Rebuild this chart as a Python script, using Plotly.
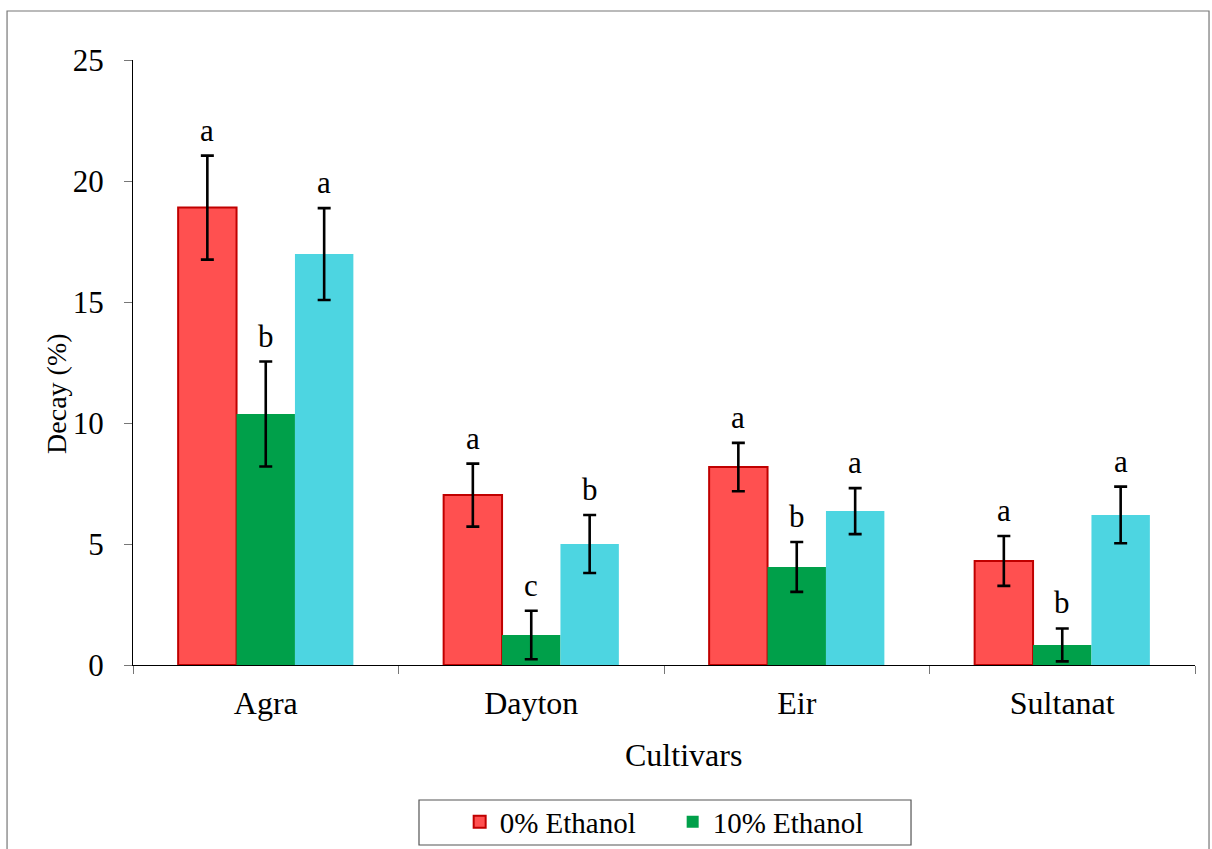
import plotly.graph_objects as go

cultivars = ["Agra", "Dayton", "Eir", "Sultanat"]
series_names = ["0% Ethanol", "10% Ethanol", "20% Ethanol"]
ethanol0 = [18.9, 7.02, 8.18, 4.30]
ethanol0_err = [2.15, 1.3, 1.0, 1.03]
ethanol10 = [10.37, 1.24, 4.05, 0.83]
ethanol10_err = [2.17, 1.0, 1.03, 0.68]
ethanol20 = [16.98, 5.0, 6.36, 6.2]
ethanol20_err = [1.9, 1.2, 0.95, 1.17]
letters0 = ["a", "a", "a", "a"]
letters10 = ["b", "c", "b", "b"]
letters20 = ["a", "b", "a", "a"]
y_ticks = [0, 5, 10, 15, 20, 25]

FONT = "Liberation Serif"
fills = ["#FF5050", "#00A04A", "#4DD5E1"]
outlines = ["#C00000", "#00A04A", "#4DD5E1"]
outline_w = [2, 0, 0]
show_leg = [True, True, False]

values = [ethanol0, ethanol10, ethanol20]
errors = [ethanol0_err, ethanol10_err, ethanol20_err]
letters = [letters0, letters10, letters20]

fig = go.Figure()
for k in range(3):
    fig.add_trace(go.Bar(
        x=cultivars, y=values[k], name=series_names[k],
        marker=dict(color=fills[k], line=dict(color=outlines[k], width=outline_w[k])),
        error_y=dict(type="data", array=errors[k], visible=True,
                     color="black", thickness=2.6, width=6.5),
        showlegend=show_leg[k],
    ))

bargap = 0.34
bw = (1 - bargap) / 3
annotations = []
for k in range(3):
    for i in range(len(cultivars)):
        annotations.append(dict(
            x=i + (k - 1) * bw, y=values[k][i] + errors[k][i],
            xref="x", yref="y", text=letters[k][i], showarrow=False,
            yanchor="bottom", yshift=6,
            font=dict(family=FONT, size=31, color="black"),
        ))
annotations.append(dict(
    x=0.518, y=-0.1488, xref="paper", yref="paper", text="Cultivars",
    showarrow=False, xanchor="center", yanchor="middle",
    font=dict(family=FONT, size=32, color="black"),
))
annotations.append(dict(
    x=-0.0716, y=0.448, xref="paper", yref="paper", text="Decay (%)",
    showarrow=False, xanchor="center", yanchor="middle", textangle=-90,
    font=dict(family=FONT, size=28, color="black"),
))

fig.update_layout(
    width=1212, height=849,
    paper_bgcolor="white", plot_bgcolor="white",
    margin=dict(l=133, r=17, t=60, b=184, autoexpand=False),
    barmode="group", bargap=bargap, bargroupgap=0,
    font=dict(family=FONT, size=30, color="black"),
    annotations=annotations,
    legend=dict(orientation="h", x=0.3076, xanchor="left",
                yref="container", y=0.0318, yanchor="middle",
                borderwidth=0, bgcolor="rgba(0,0,0,0)",
                font=dict(family=FONT, size=29), itemwidth=30, entrywidth=168),
    shapes=[
        dict(type="rect", xref="paper", yref="paper",
             x0=-0.1186, x1=1.0132, y0=-0.31, y1=1.081,
             line=dict(color="#777777", width=1.2), layer="below"),
        dict(type="rect", xref="paper", yref="paper",
             x0=0.2693, x1=0.7326, y0=-0.2975, y1=-0.2231,
             line=dict(color="#555555", width=1.2), layer="below"),
    ],
    xaxis=dict(
        showline=True, linecolor="black", linewidth=1.3,
        ticks="outside", tickson="boundaries", ticklen=8, tickcolor="#777777",
        tickfont=dict(family=FONT, size=32), ticklabelstandoff=9,
        range=[-0.5, 3.5],
    ),
    yaxis=dict(
        range=[0, 25], tickvals=y_ticks, showgrid=False, zeroline=False,
        showline=True, linecolor="black", linewidth=1.3,
        ticks="outside", ticklen=8, tickcolor="#777777",
        tickfont=dict(family=FONT, size=31), ticklabelstandoff=14,
    ),
)

fig.write_html("out.html", config={"displayModeBar": False},
               post_script="document.body.style.margin='0';document.body.style.overflow='hidden';")
